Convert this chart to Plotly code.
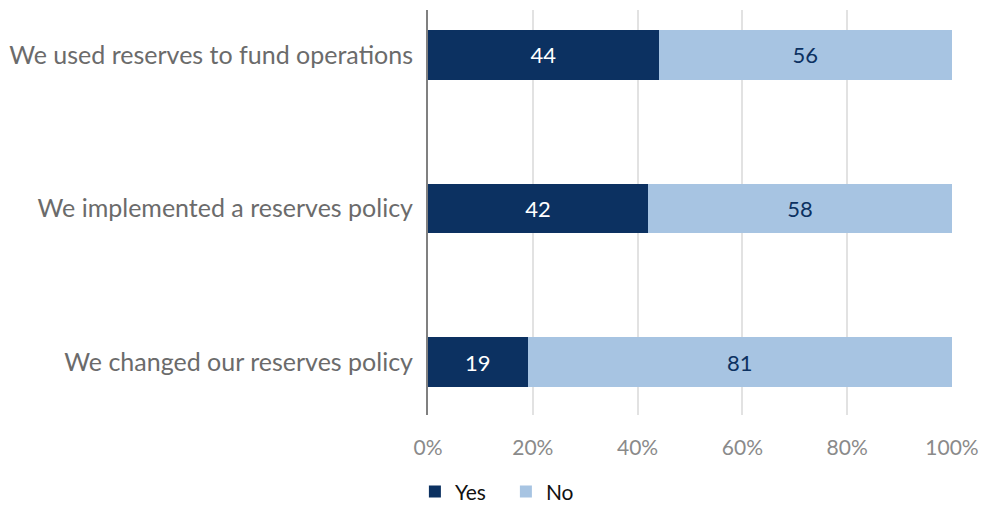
import plotly.graph_objects as go

categories = [
    "We changed our reserves policy",
    "We implemented a reserves policy",
    "We used reserves to fund operations",
]
yes_values = [19, 42, 44]
no_values = [81, 58, 56]
x_ticks = [0, 20, 40, 60, 80, 100]
x_tick_labels = ["0%", "20%", "40%", "60%", "80%", "100%"]

FONT = "Lato, 'Open Sans', sans-serif"
NAVY = "#0c3161"
LIGHT = "#a7c4e2"

fig = go.Figure()
fig.add_trace(go.Bar(
    name="Yes", y=categories, x=yes_values, orientation="h",
    marker=dict(color=NAVY, line=dict(width=0)), width=0.32,
    text=[str(v) for v in yes_values], textposition="inside",
    insidetextanchor="middle",
    textfont=dict(color="white", size=22, family=FONT),
))
fig.add_trace(go.Bar(
    name="No", y=categories, x=no_values, orientation="h",
    marker=dict(color=LIGHT, line=dict(width=0)), width=0.32,
    text=[str(v) for v in no_values], textposition="inside",
    insidetextanchor="middle",
    textfont=dict(color=NAVY, size=22, family=FONT),
))

fig.update_layout(
    barmode="stack",
    width=982, height=505,
    margin=dict(l=428, r=30, t=10, b=90, autoexpand=False),
    paper_bgcolor="white", plot_bgcolor="white",
    font=dict(family=FONT, color="#6b6b6b"),
    uniformtext=dict(mode="show", minsize=10),
    legend=dict(
        orientation="h", x=-0.025, xanchor="left", y=-0.19, yanchor="middle",
        font=dict(size=21, color="#111111", family=FONT),
        traceorder="normal", itemwidth=30,
        entrywidth=46, entrywidthmode="pixels",
        tracegroupgap=0,
    ),
    xaxis=dict(
        range=[0, 100], tickvals=x_ticks, ticktext=x_tick_labels,
        showgrid=True, gridcolor="#e2e2e2", gridwidth=1.5,
        zeroline=False, showline=False, automargin=False,
        tickfont=dict(size=21, color="#8a8a8a", family=FONT),
        ticks="", ticklabelstandoff=18,
    ),
    yaxis=dict(
        categoryorder="array", categoryarray=categories,
        range=[-0.345, 2.293], automargin=False,
        showgrid=False, zeroline=False,
        showline=True, linecolor="#808080", linewidth=2,
        tickfont=dict(size=25, color="#6b6b6b", family=FONT),
        ticks="", ticklabelstandoff=8,
    ),
)

fig.write_html("out.html")
